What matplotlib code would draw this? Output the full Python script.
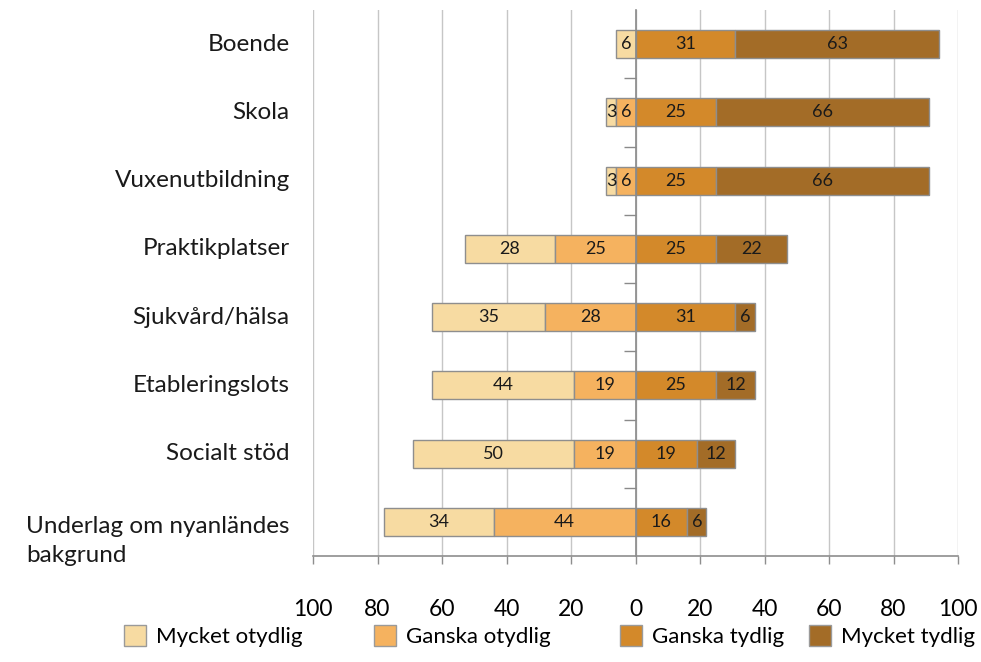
import matplotlib.pyplot as plt
import numpy as np
from matplotlib.patches import Patch
from matplotlib.transforms import blended_transform_factory

plt.rcParams['font.family'] = ['Lato', 'DejaVu Sans']

# data (percent)
categories = ["Boende", "Skola", "Vuxenutbildning", "Praktikplatser",
              "Sjukvård/hälsa", "Etableringslots", "Socialt stöd",
              "Underlag om nyanländes\nbakgrund"]
mycket_otydlig = [6, 3, 3, 28, 35, 44, 50, 34]
ganska_otydlig = [0, 6, 6, 25, 28, 19, 19, 44]
ganska_tydlig = [31, 25, 25, 25, 31, 25, 19, 16]
mycket_tydlig = [63, 66, 66, 22, 6, 12, 12, 6]

series_names = ["Mycket otydlig", "Ganska otydlig", "Ganska tydlig", "Mycket tydlig"]
colors = ["#F7DBA2", "#F5B25F", "#D3892A", "#A36C27"]
edge = "#8E8E8E"

x_ticks = [-100, -80, -60, -40, -20, 0, 20, 40, 60, 80, 100]
x_tick_labels = ["100", "80", "60", "40", "20", "0", "20", "40", "60", "80", "100"]

fig = plt.figure(figsize=(9.81, 6.62), dpi=100)
ax = fig.add_axes([313 / 981, 1 - 556 / 662, 645 / 981, 546 / 662])

y = np.arange(len(categories))
mo = np.array(mycket_otydlig)
go = np.array(ganska_otydlig)
gt = np.array(ganska_tydlig)
mt = np.array(mycket_tydlig)
h = 0.41

bars = []
bars.append(ax.barh(y, -mo, left=-go, height=h, color=colors[0], edgecolor=edge, linewidth=1.0))
bars.append(ax.barh(y, -go, left=0, height=h, color=colors[1], edgecolor=edge, linewidth=1.0))
bars.append(ax.barh(y, gt, left=0, height=h, color=colors[2], edgecolor=edge, linewidth=1.0))
bars.append(ax.barh(y, mt, left=gt, height=h, color=colors[3], edgecolor=edge, linewidth=1.0))

for cont, vals in zip(bars, [mo, go, gt, mt]):
    ax.bar_label(cont, labels=[str(v) if v else "" for v in vals],
                 label_type='center', fontsize=13, color="#1a1a1a")

ax.set_xlim(-100, 100)
ax.set_ylim(len(categories) - 0.5, -0.5)
ax.set_xticks(x_ticks)
ax.set_xticklabels(x_tick_labels, fontsize=16.5)
ax.tick_params(axis='x', direction='out', length=6, width=1.0, color="#8E8E8E", pad=25)
ax.grid(axis='x', color="#C6C6C6", linewidth=1.0)
ax.set_axisbelow(True)

# vertical axis at zero, ticks between categories
ax.spines['left'].set_position(('data', 0))
ax.spines['left'].set_color("#8A8A8A")
ax.spines['left'].set_linewidth(1.2)
ax.spines['left'].set_zorder(3)
ax.set_yticks(y[:-1] + 0.5)
ax.set_yticklabels([])
ax.tick_params(axis='y', direction='out', length=9, width=1.0, color="#8A8A8A")
ax.spines['bottom'].set_color("#8E8E8E")
ax.spines['bottom'].set_linewidth(1.2)
ax.spines['top'].set_visible(False)
ax.spines['right'].set_visible(False)

trans = blended_transform_factory(ax.transAxes, ax.transData)
for yi, cat in zip(y, categories):
    shift = 0.28 if "\n" in cat else 0.0
    ax.text(-0.036, yi + shift, cat, transform=trans, ha='right', va='center',
            fontsize=17.5, multialignment='left', linespacing=1.45, color="#1a1a1a")

# legend entries placed like the original
legend_x = [124 / 981, 374 / 981, 620 / 981, 809 / 981]
for name, col, lx in zip(series_names, colors, legend_x):
    fig.legend(handles=[Patch(facecolor=col, edgecolor="#9A9A9A", linewidth=1.0)],
               labels=[name], loc='center left', bbox_to_anchor=(lx, 1 - 636 / 662),
               frameon=False, fontsize=16, handlelength=1.0, handleheight=1.1,
               handletextpad=0.45, borderaxespad=0, borderpad=0)

fig.savefig("out.png", dpi=100)
